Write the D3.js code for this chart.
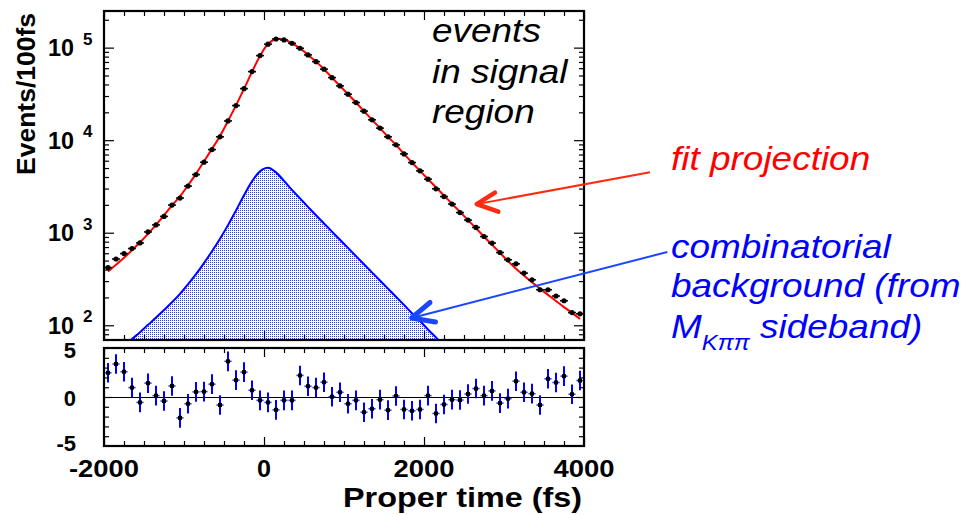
<!DOCTYPE html>
<html><head><meta charset="utf-8">
<script src="https://cdn.jsdelivr.net/npm/d3@7/dist/d3.min.js"></script>
<style>body{margin:0;background:#fff} text{font-family:"Liberation Sans",Arial,Helvetica,sans-serif}</style>
</head><body><svg id="c" width="967" height="515"></svg>
<script>
// ---------- data ----------
const binCenters = d3.range(-1950, 4000, 100); // 100 fs bins
const counts = [420,520,595,675,775,1020,1215,1500,1990,2370,
  3190,4250,5780,7910,10870,16150,23660,36060,55090,81980,
  109000,124000,121000,111500,98500,83400,70600,58500,47400,38600,
  31400,25500,20600,16600,13500,10870,8900,7110,5730,4660,
  3790,2980,2460,2040,1650,1370,1140,910,773,611,
  510,461,366,310,242,242,207,184,137,133];
const fitValues = [381,450,536,646,788,973,1217,1541,1977,2473,
  3250,4325,5902,8054,11120,16150,23770,35810,54700,81340,
  109600,124100,122700,111500,98600,83400,70600,58500,47400,38600,
  31400,25500,20600,16600,13500,10870,8900,7110,5730,4660,
  3790,3090,2520,2057,1678,1369,1116,910,742,605,
  493,409,344,291,249,213,183,157,136,117];
const bgTimes = d3.range(-1750, 2300, 100);
const bgValues = [59,71,84,101,121,146,177,218,277,357,
  470,630,861,1208,1738,2535,3589,4603,5020,4490,
  3635,2904,2353,1905,1542,1259,1028,839,685,559,
  457,373,305,249,203,166,135,111,90,74,60];
const pulls = [2.47,3.37,2.58,0.96,-0.55,1.41,0.14,-0.41,1.13,-2.13,
  -0.69,0.52,0.55,1.31,-0.82,3.64,1.72,2.54,0.69,-0.34,
  -0.55,-1.31,-0.34,-0.34,2.20,1.10,0.96,1.51,0.03,0.48,
  -0.69,-0.34,-1.55,-1.20,-0.27,-1.34,0.10,-1.27,-1.41,-1.27,
  0.14,-1.68,-0.76,-0.27,-0.31,0.31,0.86,0.14,0.62,-0.62,
  -0.17,1.61,0.48,0.34,-0.82,1.86,1.48,2.13,0.28,1.68];
const pullError = 1;
const xMajorTicks = [-2000, 0, 2000, 4000];
const xTickLabels = ["-2000", "0", "2000", "4000"];
const yMajorExps = [2, 3, 4, 5];
const resTicks = [-5, 0, 5];
const resTickLabels = ["-5", "0", "5"];

// ---------- layout ----------
const W = 967, H = 515;
const L = 104, R = 584, mainTop = 11, mainBot = 340, resTop = 348, resBot = 446;
const svg = d3.select("#c");
svg.append("rect").attr("width", W).attr("height", H).attr("fill", "#fff");

const x = d3.scaleLinear().domain([-2000, 4000]).range([L, R]);
const y = d3.scaleLog().domain([69.3, 248800]).range([mainBot, mainTop]);
const yr = d3.scaleLinear().domain([-5, 5]).range([resBot, resTop]);

const defs = svg.append("defs");
defs.append("clipPath").attr("id", "clipMain").append("rect")
  .attr("x", L).attr("y", mainTop).attr("width", R - L).attr("height", mainBot - mainTop);
const pat = defs.append("pattern").attr("id", "dots").attr("width", 2).attr("height", 2)
  .attr("patternUnits", "userSpaceOnUse");
pat.append("rect").attr("width", 1).attr("height", 1).attr("fill", "#2438ee");

// ---------- main panel ----------
const gMain = svg.append("g").attr("clip-path", "url(#clipMain)");
const bgData = bgTimes.map((t, i) => [t, bgValues[i]]);
const bgCurve = d3.curveCatmullRom.alpha(0.5);
gMain.append("path").datum(bgData)
  .attr("d", d3.area().x(d => x(d[0])).y0(mainBot + 5).y1(d => y(d[1])).curve(bgCurve))
  .attr("fill", "url(#dots)");
gMain.append("path").datum(bgData)
  .attr("d", d3.line().x(d => x(d[0])).y(d => y(d[1])).curve(bgCurve))
  .attr("fill", "none").attr("stroke", "#0000ff").attr("stroke-width", 2);

const fitData = binCenters.map((t, i) => [t, fitValues[i]]);
gMain.append("path").datum(fitData)
  .attr("d", d3.line().x(d => x(d[0])).y(d => y(d[1])).curve(d3.curveCatmullRom.alpha(0.5)))
  .attr("fill", "none").attr("stroke", "#ff0000").attr("stroke-width", 2);

const pts = gMain.append("g").selectAll("g").data(binCenters.map((t, i) => [t, counts[i]])).join("g");
pts.append("line").attr("x1", d => x(d[0] - 50)).attr("x2", d => x(d[0] + 50))
  .attr("y1", d => y(d[1])).attr("y2", d => y(d[1])).attr("stroke", "#111").attr("stroke-width", 1.6);
pts.append("circle").attr("cx", d => x(d[0])).attr("cy", d => y(d[1])).attr("r", 2.6).attr("fill", "#000");

// ---------- residual panel ----------
svg.append("line").attr("x1", L).attr("x2", R).attr("y1", Math.round(yr(0)) + 0.5).attr("y2", Math.round(yr(0)) + 0.5)
  .attr("stroke", "#000").attr("stroke-width", 1).attr("shape-rendering", "crispEdges");
const rp = svg.append("g").selectAll("g").data(binCenters.map((t, i) => [t, pulls[i]])).join("g");
rp.append("line").attr("x1", d => x(d[0])).attr("x2", d => x(d[0]))
  .attr("y1", d => yr(d[1] - pullError)).attr("y2", d => yr(d[1] + pullError))
  .attr("stroke", "#0000ff").attr("stroke-width", 2);
rp.append("line").attr("x1", d => x(d[0] - 45)).attr("x2", d => x(d[0] + 45))
  .attr("y1", d => yr(d[1])).attr("y2", d => yr(d[1]))
  .attr("stroke", "#2040ff").attr("stroke-width", 1.5);
rp.append("rect").attr("x", d => x(d[0]) - 2).attr("y", d => yr(d[1]) - 2)
  .attr("width", 4).attr("height", 4).attr("fill", "#000");

// ---------- axes / ticks ----------
function tickAxis(gen, scale, values, size, tx, ty) {
  const g = svg.append("g").attr("transform", `translate(${tx},${ty})`)
    .call(gen(scale).tickValues(values).tickSize(-size).tickFormat(""));
  g.select(".domain").remove();
  g.selectAll("line").attr("stroke", "#000").attr("stroke-width", 1.2);
}
const xMinor = d3.range(-2000, 4001, 250).filter(v => !xMajorTicks.includes(v));
[[mainTop, mainBot], [resTop, resBot]].forEach(([t, b]) => {
  tickAxis(d3.axisTop, x, xMinor, 5, 0, t);
  tickAxis(d3.axisTop, x, xMajorTicks, 9, 0, t);
  tickAxis(d3.axisBottom, x, xMinor, 5, 0, b);
  tickAxis(d3.axisBottom, x, xMajorTicks, 9, 0, b);
});
const logMinor = [];
for (let e = 1; e <= 5; e++) for (let k = 2; k <= 9; k++) {
  const v = k * Math.pow(10, e); if (v > 69.3 && v < 248800) logMinor.push(v);
}
const logMajor = yMajorExps.map(e => Math.pow(10, e));
tickAxis(d3.axisLeft, y, logMinor, 5, L, 0);
tickAxis(d3.axisLeft, y, logMajor, 10, L, 0);
tickAxis(d3.axisRight, y, logMinor, 5, R, 0);
tickAxis(d3.axisRight, y, logMajor, 10, R, 0);
const resMinor = d3.range(-4, 5).filter(v => v !== 0);
tickAxis(d3.axisLeft, yr, resMinor, 5, L, 0);
tickAxis(d3.axisLeft, yr, [0], 8, L, 0);
tickAxis(d3.axisRight, yr, resMinor, 5, R, 0);
tickAxis(d3.axisRight, yr, [0], 8, R, 0);

// frames
[[mainTop, mainBot], [resTop, resBot]].forEach(([t, b]) => {
  svg.append("rect").attr("x", L).attr("y", t).attr("width", R - L).attr("height", b - t)
    .attr("fill", "none").attr("stroke", "#000").attr("stroke-width", 2.2);
});

// tick labels
yMajorExps.forEach(e => {
  const yy = y(Math.pow(10, e));
  svg.append("text").attr("x", 74).attr("y", yy + 8.5).attr("text-anchor", "end")
    .attr("font-size", 23).attr("font-weight", "bold").attr("textLength", 26)
    .attr("lengthAdjust", "spacingAndGlyphs").text("10");
  svg.append("text").attr("x", 83).attr("y", yy - 3).attr("text-anchor", "start")
    .attr("font-size", 17).attr("font-weight", "bold").text(String(e));
});
const resLabelDy = {"-5": 4.5, "0": 8.5, "5": 10};
resTicks.forEach((v, i) => {
  svg.append("text").attr("x", 76).attr("y", yr(v) + resLabelDy[String(v)]).attr("text-anchor", "end")
    .attr("font-size", 22).attr("font-weight", "bold").text(resTickLabels[i]);
});
const xLabelWidths = [70, 14, 61, 61];
xMajorTicks.forEach((v, i) => {
  svg.append("text").attr("x", x(v) - xLabelWidths[i] / 2).attr("y", 477)
    .attr("font-size", 23.5).attr("font-weight", "bold")
    .attr("textLength", xLabelWidths[i]).attr("lengthAdjust", "spacingAndGlyphs").text(xTickLabels[i]);
});
svg.append("text").attr("x", 343).attr("y", 507)
  .attr("font-size", 28).attr("font-weight", "bold")
  .attr("textLength", 239).attr("lengthAdjust", "spacingAndGlyphs").text("Proper time (fs)");
svg.append("text").attr("transform", "translate(35,94) rotate(-90)").attr("text-anchor", "middle")
  .attr("font-size", 26.5).attr("font-weight", "bold").text("Events/100fs");

// annotations (slightly wide sans, as in the reference)
const sx = 1.087;
const gEv = svg.append("g").attr("transform", `translate(432,0) scale(${sx},1)`);
["events", "in signal", "region"].forEach((s, i) => {
  gEv.append("text").attr("x", 0).attr("y", 42 + i * 40.7).attr("font-size", 34)
    .attr("font-style", "italic").attr("fill", "#000").text(s);
});
const gAn = svg.append("g").attr("transform", `translate(671,0) scale(${sx},1)`);
gAn.append("text").attr("x", 0).attr("y", 170).attr("font-size", 34)
  .attr("font-style", "italic").attr("fill", "#ff0000").text("fit projection");
gAn.append("text").attr("x", 0).attr("y", 258).attr("font-size", 34)
  .attr("font-style", "italic").attr("fill", "#0000ff").text("combinatorial");
gAn.append("text").attr("x", 0).attr("y", 297).attr("font-size", 34)
  .attr("font-style", "italic").attr("fill", "#0000ff").text("background (from");
const mt = gAn.append("text").attr("x", 0).attr("y", 338).attr("font-size", 34)
  .attr("font-style", "italic").attr("fill", "#0000ff");
mt.append("tspan").text("M");
mt.append("tspan").attr("dy", 12).attr("font-size", 22).text("Kππ");
mt.append("tspan").attr("dy", -12).text(" sideband)");

// arrows (tips in data coordinates)
function arrow(x0, y0, tipT, tipV, a1, a2, color, w) {
  const tx = x(tipT), ty = y(tipV);
  svg.append("line").attr("x1", x0).attr("y1", y0).attr("x2", tx).attr("y2", ty)
    .attr("stroke", color).attr("stroke-width", 2);
  svg.append("path").attr("d", `M${a1[0]},${a1[1]}L${tx},${ty}L${a2[0]},${a2[1]}`)
    .attr("fill", "none").attr("stroke", color).attr("stroke-width", w)
    .attr("stroke-linecap", "round").attr("stroke-linejoin", "round");
}
arrow(650, 172.3, 2659, 2037, [495, 192.7], [498.3, 211.7], "#ff2a10", 4.5);
arrow(667.3, 252, 1846, 120, [430, 302.5], [435.5, 322], "#1a46ff", 5);
</script></body></html>
